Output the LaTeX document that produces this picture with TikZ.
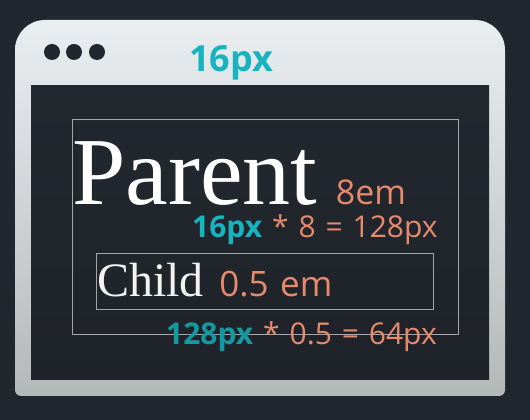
\documentclass[tikz,border=0pt]{standalone}
\usepackage{fontspec}
\setmainfont{Liberation Serif}
\newfontfamily\unitfont{Open Sans}
\usetikzlibrary{positioning}

\definecolor{bgdark}{HTML}{22272F}
\definecolor{screendark}{HTML}{232830}
\definecolor{screenlow}{HTML}{1F2329}
\definecolor{wintop}{HTML}{EAEEF1}
\definecolor{winbottom}{HTML}{B5B8B9}
\definecolor{pxteal}{HTML}{17B4C0}
\definecolor{emsalmon}{HTML}{E88A6C}
\definecolor{framegray}{HTML}{A3A7AB}

% sans label font with wider word gaps
\newcommand\unitsize[1]{\unitfont\fontsize{#1}{#1}\selectfont\spaceskip=0.33em\relax}

\begin{document}
\begin{tikzpicture}[
		x=1pt, y=1pt,
		every node/.style={inner sep=0pt, anchor=base west},
		window/.style={
			top color=wintop,
			bottom color=winbottom
		},
		screen/.style={
			top color=screendark,
			bottom color=screenlow
		},
		frame/.style={
			draw=framegray,
			line width=0.9pt
		},
		serifname/.style={
			font=\fontsize{#1}{#1}\selectfont
		},
		unit/.style={
			font={\unitsize{#1}},
			text=emsalmon
		}
		]
		
		% Background
		\fill[bgdark] (0,0) rectangle (530,420);
		\useasboundingbox (0,0) rectangle (530,420);
		
		% Browser window
		\path[window] (15,30) -- (15,370) arc (180:90:30) -- (475,400)
		arc (90:0:30) -- (505,30) arc (0:-90:6) -- (21,24)
		arc (270:180:6) -- cycle;
		\path[screen] (31,40) rectangle (489,334);
		\foreach \x in {52,74,97}
		\fill[bgdark] (\x,368) circle (8);
		
		% Boxes
		\draw[frame] (72,86) rectangle (458,301);
		\draw[frame] (96,111) rectangle (433,167);
		
		% Nodes
		\node[unit=36, text=pxteal, font=\unitfont\bfseries\fontsize{36}{36}\selectfont]
		(root) at (189,348) {16px};
		
		\node[serifname=96, text=white] (parent) at (72,215) {Parent};
		\node[unit=34, right=18pt of parent.base east, anchor=base west] (parentem) {8em};
		\node[unit=30] (parentcalc) at (192,182)
		{{\bfseries\color{pxteal}16px} * 8 = 128px};
		
		\node[serifname=48, text=white!90!gray] (child) at (97,123) {Child};
		\node[unit=35, right=15pt of child.base east, anchor=base west] (childem) {0.5 em};
		\node[unit=30] (childcalc) at (166,75)
		{{\bfseries\color{pxteal!85!black}128px} * 0.5 = 64px};
		
	\end{tikzpicture}
\end{document}
